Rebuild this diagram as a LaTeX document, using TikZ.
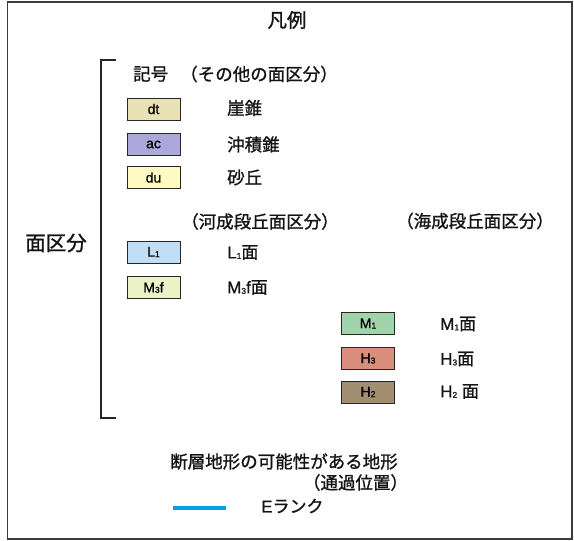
\documentclass[tikz,border=0pt]{standalone}
\usepackage{fontspec}
\setmainfont{Liberation Sans}
\newfontfamily\jp[FakeBold=1.2]{Noto Sans CJK JP}
\newfontfamily\lsb[FakeBold=0.8]{Liberation Sans}
\definecolor{cdt}{RGB}{232,226,182}
\definecolor{cac}{RGB}{172,168,218}
\definecolor{cdu}{RGB}{255,250,196}
\definecolor{cLone}{RGB}{192,222,246}
\definecolor{cMthree}{RGB}{236,242,198}
\definecolor{cMone}{RGB}{162,212,172}
\definecolor{cHthree}{RGB}{216,142,122}
\definecolor{cHtwo}{RGB}{162,142,112}
\definecolor{cline}{RGB}{0,160,228}
\definecolor{cframe}{RGB}{60,60,60}
\newcommand{\sbs}[1]{\raisebox{-0.5pt}{\fontsize{8.5}{9}\selectfont #1}}
\tikzset{
  legbox/.style={draw=black!85, line width=0.9pt, minimum width=53pt, minimum height=22pt, inner sep=0pt, font=\lsb\fontsize{14}{15}\selectfont},
  jtxt/.style={inner sep=0pt, font=\jp\fontsize{17.5}{18}\selectfont, text=black!92},
  ltxt/.style={inner sep=0pt, anchor=west, font=\lsb\fontsize{17}{18}\selectfont, text=black!92},
}
\begin{document}
\begin{tikzpicture}[x=1pt,y=-1pt]
\useasboundingbox (0,0) rectangle (574,541);
\draw[cframe, line width=1.5pt] (7.5,2) rectangle (572,539);
\node[jtxt, font=\jp\fontsize{19.5}{20}\selectfont] (title) at (287,20) {凡例};
% bracket
\coordinate (bt) at (116,60);
\coordinate (bb) at (116,418);
\draw[black!85, line width=1.5pt] (bt) -| (101,418) -- (bb);
\node[jtxt, font=\jp\fontsize{20.5}{21}\selectfont] (menkubun) at (56,243) {面区分};
% header
\node[jtxt, anchor=west] (kigou) at (133,74) {記号};
\node[jtxt] (sonota) at (259,74) {（その他の面区分）};
\node[jtxt] (kasei) at (260,221.5) {（河成段丘面区分）};
\node[jtxt] (kaisei) at (475,221) {（海成段丘面区分）};
% boxes left
\node[legbox, fill=cdt] (dt) at (153.5,109) {dt};
\node[legbox, fill=cac] (ac) at (153.5,144.5) {ac};
\node[legbox, fill=cdu] (du) at (153.5,177.5) {du};
\node[legbox, fill=cLone] (L1) at (153.5,252) {L\sbs{1}};
\node[legbox, fill=cMthree] (M3f) at (153.5,287.5) {M\sbs{3}f};
\node[jtxt, anchor=west] (tdt) at (227,108) {崖錐};
\node[jtxt, anchor=west] (tac) at (227,144.5) {沖積錐};
\node[jtxt, anchor=west] (tdu) at (227,177.5) {砂丘};
\node[ltxt] (tL1) at (227,252.5) {L\sbs{1}{\jp 面}};
\node[ltxt] (tM3f) at (227,287.5) {M\sbs{3}f{\jp 面}};
% boxes right
\node[legbox, fill=cMone] (M1) at (368,323.5) {M\sbs{1}};
\node[legbox, fill=cHthree] (H3) at (368,358.5) {H\sbs{3}};
\node[legbox, fill=cHtwo] (H2) at (368,392) {H\sbs{2}};
\node[ltxt] (tM1) at (440,324) {M\sbs{1}{\jp 面}};
\node[ltxt] (tH3) at (440,359) {H\sbs{3}{\jp 面}};
\node[ltxt] (tH2) at (440,391.5) {H\sbs{2} {\jp 面}};
% fault
\node[jtxt] (fault) at (284,461.5) {断層地形の可能性がある地形};
\node[jtxt] (pass) at (355.5,482.5) {（通過位置）};
\coordinate (la) at (173,507.5);
\coordinate (lb) at (226,507.5);
\draw[cline, line width=4pt] (la) -- (lb);
\node[ltxt] (erank) at (261,506) {E{\jp ランク}};
\end{tikzpicture}
\end{document}
